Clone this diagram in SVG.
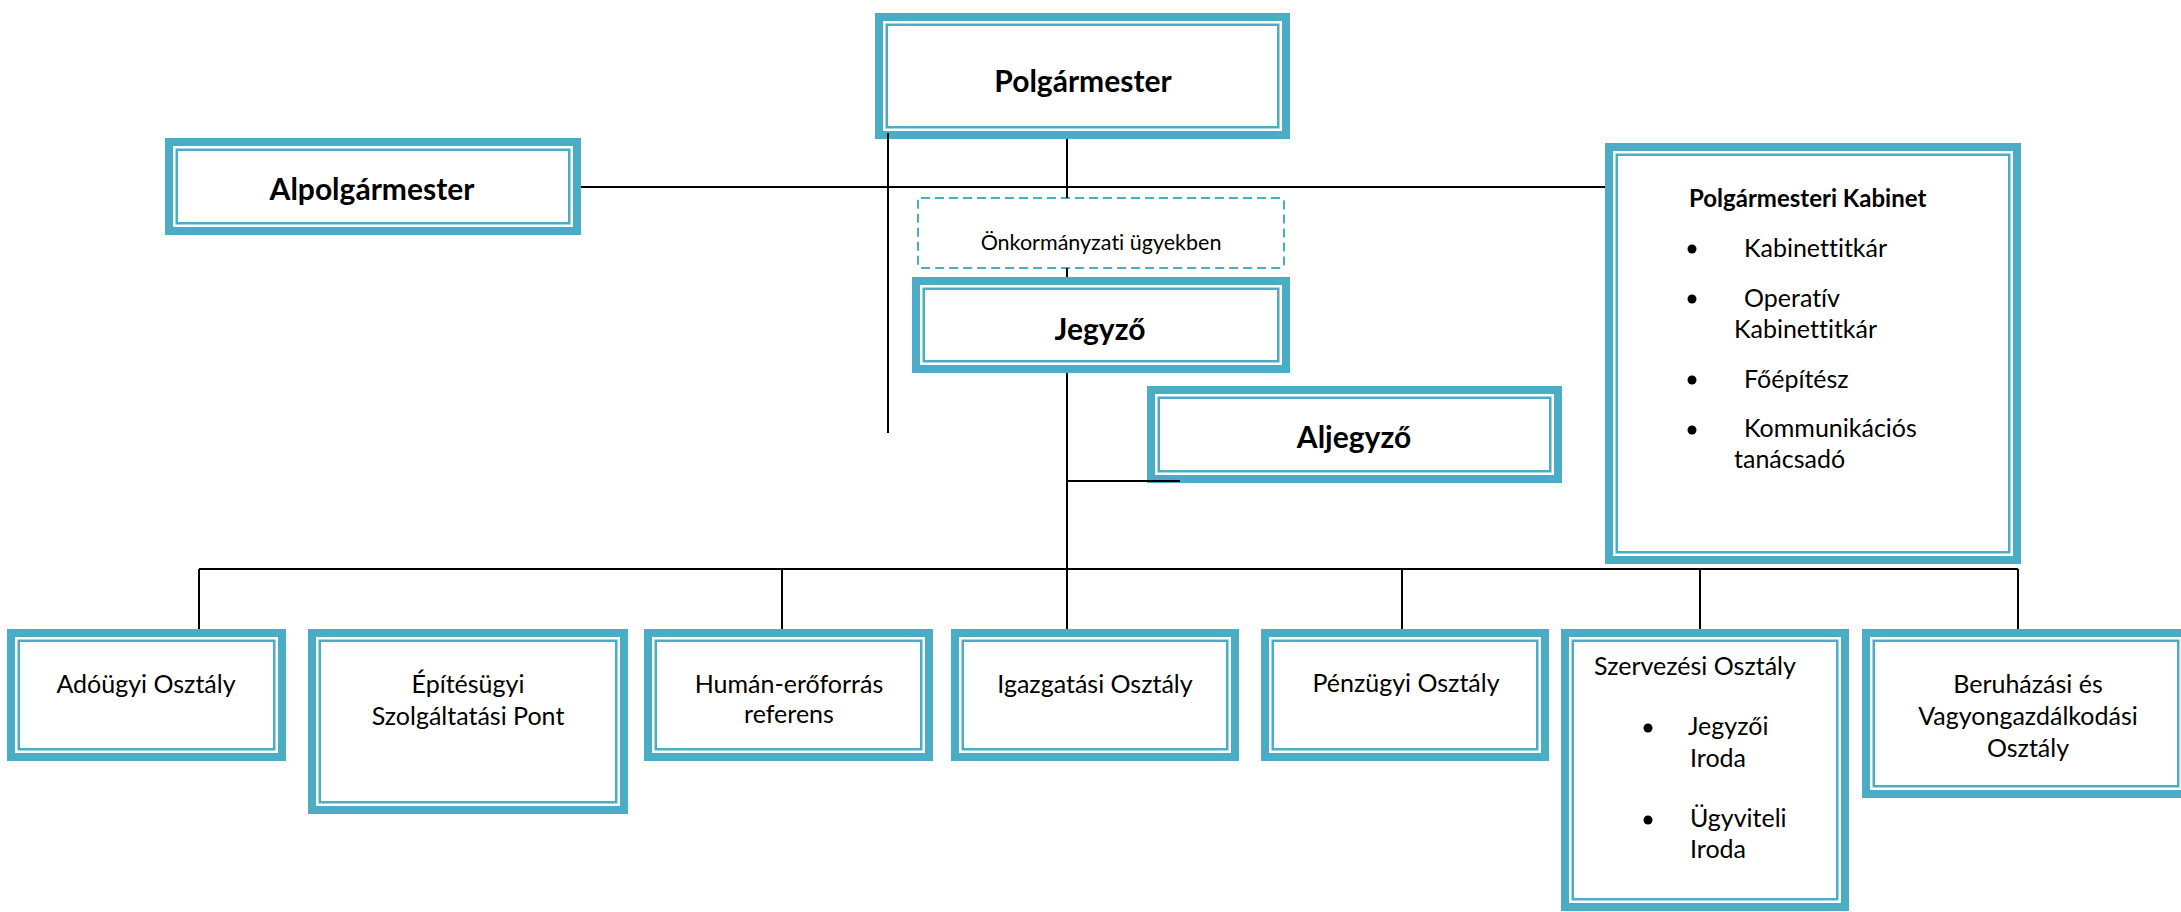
<svg xmlns="http://www.w3.org/2000/svg" width="2181" height="912" viewBox="0 0 2181 912">
<style>
.outer{fill:#fff;stroke:#4BACC6;stroke-width:8}
.inner{fill:none;stroke:#4BACC6;stroke-width:2.5}
.dash{fill:#fff;stroke:#4BACC6;stroke-width:2;stroke-dasharray:9 5}
.ln{stroke:#000;stroke-width:2;fill:none}
.t{font-family:Lato,"Open Sans","Liberation Sans",sans-serif;font-size:25px;fill:#000;font-variant-ligatures:none}
.tb{font-family:Lato,"Open Sans","Liberation Sans",sans-serif;font-weight:bold;font-size:30px;fill:#000;font-variant-ligatures:none}
.c{text-anchor:middle}
.bul{fill:#000}
</style>
<rect width="2181" height="912" fill="#fff"/>
<g id="polgarmester">
<rect class="outer" x="879" y="17" width="407" height="118"/>
<rect class="inner" x="886.75" y="24.75" width="391.5" height="102.5"/>
<text class="tb c" x="1083" y="92">Polgármester</text>
</g>
<g id="alpolgarmester">
<rect class="outer" x="169" y="142" width="408" height="89"/>
<rect class="inner" x="176.75" y="149.75" width="392.5" height="73.5"/>
<text class="tb c" x="372" y="200">Alpolgármester</text>
</g>
<g id="onkormanyzati">
<rect class="dash" x="918" y="198" width="366" height="70" rx="3"/>
<text class="t c" x="1101" y="250" style="font-size:21.5px">Önkormányzati ügyekben</text>
</g>
<g id="jegyzo">
<rect class="outer" x="916" y="281" width="370" height="88"/>
<rect class="inner" x="923.75" y="288.75" width="354.5" height="72.5"/>
<text class="tb c" x="1100" y="340">Jegyző</text>
</g>
<g id="aljegyzo">
<rect class="outer" x="1151" y="390" width="407" height="89"/>
<rect class="inner" x="1158.75" y="397.75" width="391.5" height="73.5"/>
<text class="tb c" x="1354" y="448">Aljegyző</text>
</g>
<g id="kabinet">
<rect class="outer" x="1609" y="147" width="408" height="413"/>
<rect class="inner" x="1616.75" y="154.75" width="392.5" height="397.5"/>
<text class="tb" x="1689" y="207" style="font-size:24px">Polgármesteri Kabinet</text>
<circle class="bul" cx="1692" cy="249" r="4.5"/>
<circle class="bul" cx="1692" cy="299" r="4.5"/>
<circle class="bul" cx="1692" cy="380" r="4.5"/>
<circle class="bul" cx="1692" cy="430" r="4.5"/>
<text class="t" x="1744" y="257">Kabinettitkár</text>
<text class="t" x="1744" y="307">Operatív</text>
<text class="t" x="1734" y="338">Kabinettitkár</text>
<text class="t" x="1744" y="388">Főépítész</text>
<text class="t" x="1744" y="437">Kommunikációs</text>
<text class="t" x="1734" y="468">tanácsadó</text>
</g>
<g id="adougyi">
<rect class="outer" x="11" y="633" width="271" height="124"/>
<rect class="inner" x="18.75" y="640.75" width="255.5" height="108.5"/>
<text class="t c" x="146" y="693">Adóügyi Osztály</text>
</g>
<g id="epitesugyi">
<rect class="outer" x="312" y="633" width="312" height="177"/>
<rect class="inner" x="319.75" y="640.75" width="296.5" height="161.5"/>
<text class="t c" x="468" y="693">Építésügyi</text>
<text class="t c" x="468" y="725">Szolgáltatási Pont</text>
</g>
<g id="human">
<rect class="outer" x="648" y="633" width="281" height="124"/>
<rect class="inner" x="655.75" y="640.75" width="265.5" height="108.5"/>
<text class="t c" x="789" y="693">Humán-erőforrás</text>
<text class="t c" x="789" y="723">referens</text>
</g>
<g id="igazgatasi">
<rect class="outer" x="955" y="633" width="280" height="124"/>
<rect class="inner" x="962.75" y="640.75" width="264.5" height="108.5"/>
<text class="t c" x="1095" y="693">Igazgatási Osztály</text>
</g>
<g id="penzugyi">
<rect class="outer" x="1265" y="633" width="280" height="124"/>
<rect class="inner" x="1272.75" y="640.75" width="264.5" height="108.5"/>
<text class="t c" x="1406" y="692">Pénzügyi Osztály</text>
</g>
<g id="szervezesi">
<rect class="outer" x="1565" y="633" width="280" height="274"/>
<rect class="inner" x="1572.75" y="640.75" width="264.5" height="258.5"/>
<text class="t" x="1594" y="675">Szervezési Osztály</text>
<circle class="bul" cx="1648" cy="728" r="4.5"/>
<circle class="bul" cx="1648" cy="820" r="4.5"/>
<text class="t" x="1688" y="735">Jegyzői</text>
<text class="t" x="1690" y="767">Iroda</text>
<text class="t" x="1690" y="827">Ügyviteli</text>
<text class="t" x="1690" y="858">Iroda</text>
</g>
<g id="beruhazasi">
<rect class="outer" x="1866" y="633" width="320" height="161"/>
<rect class="inner" x="1873.75" y="640.75" width="304.5" height="145.5"/>
<text class="t c" x="2028" y="693">Beruházási és</text>
<text class="t c" x="2028" y="725">Vagyongazdálkodási</text>
<text class="t c" x="2028" y="757">Osztály</text>
</g>
<g id="connectors">
<path class="ln" d="M581 187H1605"/>
<path class="ln" d="M888 133V433"/>
<path class="ln" d="M1067 139V198"/>
<path class="ln" d="M1067 268V277"/>
<path class="ln" d="M1067 373V629"/>
<path class="ln" d="M1067 481H1180"/>
<path class="ln" d="M199 569H2018"/>
<path class="ln" d="M199 569V629"/>
<path class="ln" d="M782 569V629"/>
<path class="ln" d="M1402 569V629"/>
<path class="ln" d="M1700 569V629"/>
<path class="ln" d="M2018 569V629"/>
</g>
</svg>
